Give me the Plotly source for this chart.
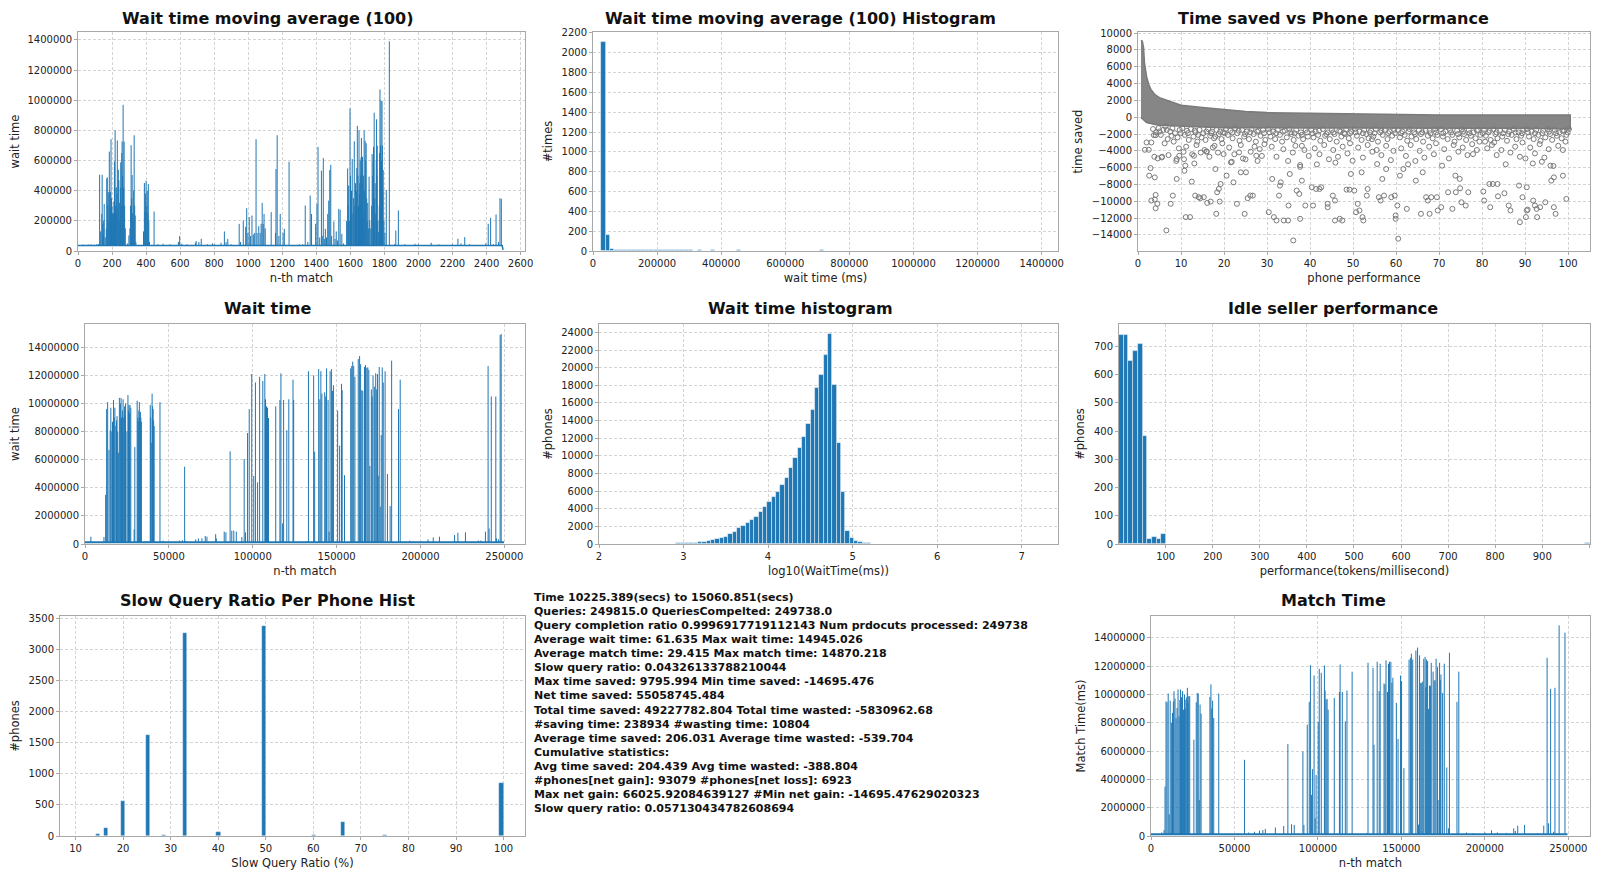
import plotly.graph_objects as go

BLUE = "#1f77b4"
FONT = "DejaVu Sans"
W, H = 1600, 878          # window size
OFF = 8                    # page body margin around the figure
FW, FH = W - OFF, H - OFF  # figure size so it fills the window exactly

# ---------------- data ----------------
# Wait time moving average (100): flat baseline plus spikes (index, value)
ma_base_x = [0, 2492, 2497]
ma_base_y = [36000, 36000, 8000]
ma_spikes = [
    (30, 44000), (60, 43000), (75, 44000), (95, 42000), (110, 45000), (120, 46000), (127, 506000),
    (133, 130000), (140, 246000), (142, 506000), (145, 180000), (148, 108000), (151, 200000),
    (154, 312000), (160, 90000), (166, 150000), (169, 480000), (172, 489000), (175, 300000),
    (178, 390000), (181, 200000), (184, 660000), (187, 390000), (190, 390000), (192, 280000),
    (194, 742000), (197, 350000), (200, 300000), (203, 250000), (206, 200000), (208, 250000),
    (211, 330000), (214, 594000), (216, 420000), (218, 801000), (221, 300000), (223, 250000),
    (225, 422000), (228, 380000), (231, 733000), (234, 280000), (237, 539000), (240, 470000),
    (243, 319000), (246, 200000), (249, 420000), (251, 588000), (254, 300000), (257, 650000),
    (259, 726000), (262, 500000), (265, 970000), (268, 420000), (271, 726000), (274, 300000),
    (278, 150000), (290, 50000), (299, 103000), (305, 150000), (309, 300000), (312, 702000),
    (315, 350000), (318, 504000), (321, 250000), (324, 200000), (327, 400000), (330, 768000),
    (333, 300000), (336, 235000), (340, 60000), (385, 130000), (390, 451000), (393, 260000),
    (397, 380000), (400, 466000), (404, 300000), (407, 400000), (410, 250000), (413, 444000),
    (416, 200000), (420, 60000), (447, 262000), (470, 45000), (500, 48000), (540, 45000),
    (590, 60000), (597, 99000), (610, 48000), (640, 45000), (690, 55000), (694, 66000),
    (710, 60000), (724, 81000), (760, 45000), (790, 50000), (800, 45000), (840, 55000),
    (860, 130000), (870, 60000), (880, 80000), (900, 45000), (947, 180000), (955, 60000),
    (971, 202000), (985, 160000), (991, 284000), (998, 120000), (1006, 225000), (1014, 100000),
    (1022, 235000), (1030, 110000), (1038, 120000), (1046, 742000), (1052, 120000),
    (1062, 165000), (1070, 120000), (1076, 180000), (1082, 319000), (1088, 180000),
    (1093, 246000), (1100, 150000), (1135, 258000), (1160, 120000), (1163, 544000),
    (1170, 768000), (1180, 100000), (1188, 246000), (1205, 120000), (1212, 147000),
    (1240, 592000), (1300, 45000), (1320, 45000), (1335, 302000), (1350, 60000), (1364, 368000),
    (1372, 246000), (1396, 180000), (1404, 312000), (1410, 691000), (1420, 90000), (1430, 533000),
    (1435, 100000), (1441, 616000), (1447, 80000), (1453, 147000), (1460, 90000), (1467, 246000),
    (1473, 334000), (1479, 537000), (1485, 572000), (1490, 100000), (1503, 196000), (1510, 80000),
    (1517, 130000), (1525, 70000), (1532, 280000), (1540, 273000), (1550, 114000), (1560, 50000),
    (1578, 200000), (1584, 548000), (1587, 300000), (1590, 434000), (1594, 200000), (1598, 946000),
    (1601, 500000), (1604, 250000), (1607, 400000), (1611, 610000), (1615, 250000), (1619, 350000),
    (1623, 728000), (1627, 300000), (1630, 450000), (1632, 250000), (1636, 400000), (1638, 550000),
    (1641, 830000), (1645, 500000), (1648, 300000), (1651, 801000), (1653, 380000), (1655, 450000),
    (1658, 600000), (1661, 500000), (1663, 620000), (1665, 750000), (1668, 350000), (1671, 625000),
    (1673, 450000), (1675, 250000), (1678, 500000), (1681, 801000), (1684, 400000), (1687, 731000),
    (1690, 600000), (1693, 715000), (1696, 350000), (1699, 200000), (1702, 319000), (1706, 150000),
    (1710, 493000), (1714, 200000), (1720, 150000), (1725, 300000), (1728, 643000), (1732, 500000),
    (1734, 600000), (1736, 691000), (1738, 450000), (1740, 918000), (1743, 350000), (1746, 246000),
    (1750, 450000), (1752, 600000), (1754, 874000), (1756, 500000), (1758, 698000), (1762, 200000),
    (1766, 125000), (1770, 300000), (1772, 650000), (1774, 1072000), (1777, 700000),
    (1780, 999000), (1783, 600000), (1786, 995000), (1788, 700000), (1790, 400000),
    (1793, 537000), (1797, 200000), (1803, 120000), (1811, 405000), (1829, 1391000),
    (1860, 45000), (1867, 136000), (1882, 269000), (1920, 45000), (1980, 48000), (2000, 45000),
    (2075, 55000), (2120, 45000), (2200, 45000), (2232, 81000), (2250, 50000), (2272, 92000),
    (2300, 45000), (2395, 50000), (2410, 180000), (2424, 220000), (2440, 45000), (2456, 242000),
    (2470, 60000), (2479, 350000), (2487, 346000),
]

# Histogram of the moving average (100 bins between min and max)
ma_hist_lo, ma_hist_hi = 26000, 1390400
ma_hist_counts = [
    2106, 164, 22, 14, 12, 11, 10, 14, 15, 13,
    12, 9, 8, 7, 6, 7, 6, 8, 9, 7,
    6, 5, 6, 4, 5, 6, 5, 4, 3, 4,
    5, 6, 4, 3, 3, 5, 4, 3, 4, 3,
    3, 4, 3, 2, 3, 2, 2, 3, 2, 4,
    6, 3, 2, 2, 1, 2, 1, 1, 0, 0,
    0, 0, 0, 0, 0, 0, 0, 0, 0, 0,
    1, 0, 0, 0, 0, 0, 0, 0, 0, 0,
    0, 0, 0, 0, 0, 0, 0, 0, 0, 0,
    0, 0, 0, 0, 0, 0, 0, 0, 0, 1,
]

# Time saved vs phone performance: dense band envelope + individual outliers
band_x = [0.7, 1.0, 1.3, 1.5, 2, 2.5, 3, 4, 5, 7, 10, 15, 20, 25, 30, 40, 50, 60, 62, 70, 80, 90, 100.5]
band_upper = [9160, 9040, 8250, 6470, 4820, 3900, 3320, 2650, 2330, 1930, 1420, 1145, 870, 670,
              550, 470, 430, 355, 280, 280, 280, 280, 280]
band_lower = [-120, -150, -250, -400, -630, -680, -700, -850, -950, -1000, -1050, -1150, -1250,
              -1250, -1250, -1270, -1270, -1270, -1270, -1270, -1300, -1300, -1400]
saved_outliers = [
    (1.6, -3870), (2.5, -3870), (2.0, -3000), (3.1, -3000), (3.7, -2130), (4.1, -2130), (2.9, -6040),
    (2.6, -6950), (3.9, -7150), (3.1, -9910), (4.1, -9240), (4.1, -10820), (4.5, -10300), (3.9, -9790),
    (5.5, -4780), (6.6, -13460), (7.6, -10300), (8.1, -9320), (9.0, -7340), (9.0, -4970), (9.6, -4580),
    (10.6, -4110), (10.8, -6360), (11.0, -5760), (11.1, -11880), (12.1, -11880), (12.5, -7660),
    (13.0, -4580), (13.3, -9320), (14.1, -9510), (14.5, -9630), (15.3, -9510), (15.9, -4070),
    (16.1, -10190), (16.9, -10030), (18.0, -6160), (18.2, -11490), (18.4, -8920), (18.8, -8530),
    (19.2, -7940), (19.0, -10030), (17.8, -3400), (19.9, -4380), (20.6, -6950), (21.6, -5370),
    (22.2, -7740), (23.0, -10300), (23.5, -4180), (24.8, -11490), (25.1, -6550), (25.5, -9630),
    (26.1, -9320), (26.7, -9320), (23.9, -6550), (27.5, -4580), (28.3, -3790), (30.4, -11290),
    (31.2, -7340), (31.6, -11880), (32.2, -12280), (32.8, -9320), (33.0, -8130), (33.2, -7740),
    (33.9, -12280), (34.9, -12280), (35.3, -6750), (35.0, -10500), (36.1, -14650), (36.9, -8720),
    (37.5, -9120), (37.7, -12080), (38.1, -3400), (38.1, -7540), (37.7, -5690), (38.9, -10500),
    (40.4, -8330), (40.7, -10500), (41.4, -8530), (42.2, -8530), (42.6, -8330), (44.1, -10300),
    (44.1, -10700), (45.3, -9320), (45.8, -9910), (45.8, -12280), (46.9, -12080), (47.5, -12280),
    (48.5, -8610), (49.2, -8610), (49.9, -5170), (49.5, -6750), (50.3, -8720), (50.7, -11290),
    (51.1, -10300), (51.5, -11090), (52.0, -6550), (52.2, -11880), (52.4, -12280), (53.2, -9320),
    (53.4, -8530), (54.4, -2610), (55.6, -5570), (56.0, -9510), (56.4, -9910), (56.8, -7340),
    (57.2, -9320), (57.7, -6160), (58.9, -9510), (59.7, -9320), (59.9, -11690), (59.9, -12080),
    (60.5, -14450), (60.3, -10500), (60.9, -6950), (61.7, -6160), (62.5, -10900), (64.6, -7540),
    (65.8, -11490), (66.2, -6550), (67.0, -9510), (67.4, -9910), (67.8, -11490), (68.2, -9510),
    (69.5, -9510), (69.7, -11090), (70.5, -10700), (70.7, -5760), (72.1, -8920), (73.1, -10900),
    (73.8, -6950), (73.9, -8920), (74.8, -7340), (74.9, -8450), (75.2, -10110), (76.2, -10500),
    (76.8, -8920), (77.9, -4380), (80.3, -8840), (80.5, -9910), (81.7, -7940), (81.9, -10700),
    (82.5, -7940), (83.6, -7940), (83.7, -9400), (85.2, -9040), (86.2, -10500), (86.6, -11090),
    (88.6, -8130), (88.8, -12480), (89.4, -9510), (90.2, -11880), (90.4, -11090), (90.6, -10980),
    (90.4, -8330), (91.9, -9910), (92.3, -10500), (92.7, -10900), (92.8, -11880), (93.5, -10700),
    (94.7, -10110), (96.1, -7540), (96.7, -7150), (96.7, -10700), (97.1, -11490), (98.8, -6950),
    (99.6, -9710), (95.9, -5760),
    (3.5, -1400), (4.2, -1800), (4.8, -1300), (5.3, -2100), (5.9, -1500), (6.4, -1100), (6.9, -2600),
    (7.5, -1700), (8.0, -1300), (8.6, -1900), (9.2, -2400), (9.7, -1500), (6.2, -3100), (8.3, -2900),
    (7.1, -4500), (5.6, -4700), (4.6, -4900), (9.5, -3700), (8.9, -5200), (3.8, -4700),
    (10.3, -1300), (10.9, -2100), (11.4, -1600), (11.8, -2700), (12.3, -1400), (12.9, -2300),
    (13.4, -1800), (13.8, -2900), (14.3, -1500), (14.8, -2400), (15.2, -1900), (15.7, -2700),
    (16.3, -1400), (16.8, -2200), (17.2, -1700), (17.7, -2500), (18.3, -1500), (18.8, -2000),
    (19.4, -2600), (19.8, -1800), (11.2, -3500), (12.6, -4400), (13.6, -3300), (14.6, -4200),
    (15.5, -3900), (16.6, -4700), (17.4, -3600), (18.6, -4200), (19.6, -3100), (10.7, -5000),
    (13.1, -5500), (16.0, -4100),
    (20.4, -1400), (20.9, -2100), (21.5, -1600), (22.0, -2500), (22.6, -1300), (23.1, -1900),
    (23.6, -2800), (24.2, -1500), (24.7, -2300), (25.3, -1700), (25.8, -2600), (26.4, -1400),
    (26.9, -2000), (27.4, -2900), (28.0, -1600), (28.5, -2200), (29.1, -1500), (29.6, -2700),
    (21.2, -3600), (22.4, -4400), (23.9, -3300), (25.0, -5000), (26.2, -4100), (27.1, -3500),
    (28.8, -4600), (29.4, -3200), (21.8, -5300), (24.4, -4900), (27.8, -5200),
    (30.3, -1400), (30.8, -2300), (31.4, -1700), (31.9, -2600), (32.5, -1500), (33.0, -2100),
    (33.5, -2900), (34.1, -1600), (34.6, -2400), (35.2, -1400), (35.7, -2000), (36.2, -2700),
    (36.8, -1500), (37.3, -2200), (37.9, -1800), (38.4, -2600), (39.0, -1500), (39.5, -2300),
    (31.1, -3500), (32.2, -4700), (33.8, -3800), (34.9, -5200), (36.0, -4200), (36.6, -3400),
    (37.7, -5900), (38.7, -3900), (39.7, -4600),
    (40.3, -1500), (40.8, -2400), (41.3, -1700), (41.9, -2100), (42.4, -2800), (43.0, -1400),
    (43.5, -2200), (44.1, -1800), (44.6, -2600), (45.1, -1500), (45.7, -2000), (46.2, -2900),
    (46.8, -1600), (47.3, -2300), (47.9, -1900), (48.4, -1400), (49.0, -2500), (49.6, -1700),
    (41.1, -3700), (42.2, -4400), (43.3, -3300), (44.4, -5000), (45.4, -3900), (46.5, -4700),
    (47.6, -3500), (48.7, -4300), (49.3, -3100), (41.6, -5600), (45.9, -5400),
    (50.4, -1400), (50.9, -2200), (51.5, -1700), (52.0, -2700), (52.6, -1500), (53.1, -2000),
    (53.6, -2500), (54.2, -1600), (54.7, -2300), (55.3, -1400), (55.8, -2900), (56.3, -1800),
    (56.9, -2100), (57.4, -1500), (58.0, -2600), (58.5, -1700), (59.1, -2200), (59.6, -1500),
    (51.2, -3600), (52.3, -4800), (53.4, -3300), (54.5, -4100), (55.5, -3900), (56.6, -4500),
    (57.7, -3400), (58.8, -5100), (59.4, -4000),
    (60.4, -1500), (60.9, -2400), (61.5, -1700), (62.0, -2100), (62.6, -2800), (63.1, -1400),
    (63.6, -2300), (64.2, -1800), (64.7, -2600), (65.3, -1500), (65.8, -2000), (66.3, -2900),
    (66.9, -1600), (67.4, -2200), (68.0, -1900), (68.5, -2500), (69.1, -1400), (69.6, -2100),
    (61.2, -3700), (62.3, -4600), (63.4, -3300), (64.5, -5200), (65.5, -4000), (66.6, -4800),
    (67.7, -3500), (68.8, -4400), (69.3, -3100), (62.8, -5600),
    (70.4, -1400), (70.9, -2300), (71.5, -1700), (72.0, -2600), (72.6, -1500), (73.1, -2100),
    (73.6, -2900), (74.2, -1600), (74.7, -2400), (75.3, -1400), (75.8, -2000), (76.3, -2700),
    (76.9, -1500), (77.4, -2200), (78.0, -1800), (78.5, -2500), (79.1, -1500), (79.6, -2100),
    (71.2, -3800), (72.3, -4900), (73.4, -3300), (74.5, -4100), (75.5, -3600), (76.6, -4500),
    (77.7, -3200), (78.8, -3900), (79.4, -2900),
    (80.4, -1500), (80.9, -2200), (81.5, -1800), (82.0, -2700), (82.6, -1400), (83.1, -2000),
    (83.6, -2500), (84.2, -1600), (84.7, -2300), (85.3, -1500), (85.8, -2800), (86.3, -1700),
    (86.9, -2100), (87.4, -1400), (88.0, -2600), (88.5, -1800), (89.1, -2200), (89.6, -1500),
    (81.2, -3700), (82.3, -3300), (83.4, -4500), (84.5, -3900), (85.5, -5600), (86.6, -4200),
    (87.7, -3500), (88.8, -4700), (89.4, -3000), (82.8, -3000), (80.7, -2900),
    (90.4, -1400), (90.9, -2300), (91.5, -1700), (92.0, -2600), (92.6, -1500), (93.1, -2100),
    (93.6, -2800), (94.2, -1600), (94.7, -2400), (95.3, -1400), (95.8, -2000), (96.3, -2700),
    (96.9, -1500), (97.4, -2200), (98.0, -1800), (98.5, -2500), (99.1, -1600), (99.6, -2100),
    (100.2, -1400), (91.2, -3600), (92.3, -4300), (93.4, -3200), (94.5, -4800), (95.5, -3800),
    (96.6, -5800), (97.7, -3400), (98.8, -3900), (99.4, -2900), (90.1, -4900), (91.8, -5500),
    (93.9, -5300),
    (5.0, -1700), (6.7, -1500), (7.8, -2200), (9.9, -1900), (11.6, -1900), (13.2, -1600),
    (14.0, -2100), (15.9, -1700), (17.0, -1900), (18.0, -2300), (19.1, -1700), (20.2, -1900),
    (21.9, -1800), (23.4, -1600), (24.9, -2000), (26.1, -1800), (27.7, -1700), (29.3, -1900),
    (30.6, -1800), (32.1, -1900), (33.7, -1700), (35.4, -1800), (36.4, -1900), (38.1, -2100),
    (39.3, -1800), (40.6, -1900), (42.1, -1600), (43.8, -2000), (45.4, -1800), (47.1, -1700),
    (48.1, -2000), (49.3, -1900), (50.6, -1800), (52.3, -1900), (53.9, -1800), (55.0, -1900),
    (56.6, -1600), (58.2, -1900), (59.8, -1900), (61.2, -1900), (62.9, -1700), (64.4, -2000),
    (66.1, -1800), (67.8, -1600), (69.3, -1800), (71.0, -1900), (72.8, -1800), (74.4, -2000),
    (75.6, -1700), (77.1, -1900), (78.8, -1600), (80.2, -1900), (81.8, -1600), (83.4, -1800),
    (84.9, -1900), (86.1, -2000), (87.8, -1800), (89.3, -1900), (90.7, -1800), (92.3, -1900),
    (94.0, -1900), (95.6, -1700), (97.2, -1900), (98.7, -1600), (99.9, -1800),
]

# Wait time per match (index, ms)
wait_base = 120000
wait_end = 249800
wait_spikes = [
    (3500, 520000), (11300, 500000), (12300, 3500000), (12900, 9600000), (13500, 10100000),
    (14300, 6700000), (15000, 8100000), (15400, 9700000), (16000, 8000000), (16400, 8700000),
    (17000, 10250000), (17400, 9000000), (17800, 9700000), (18400, 8400000), (18800, 8800000),
    (19100, 9100000), (19500, 8000000), (19900, 6500000), (20500, 10400000), (21100, 10000000),
    (21500, 10400000), (21800, 9000000), (22100, 8100000), (22400, 9500000), (22700, 10300000),
    (23100, 9000000), (23600, 9800000), (23900, 9200000), (24200, 10000000), (25000, 8000000),
    (25600, 10600000), (25900, 9500000), (26200, 9900000), (26500, 9300000), (26800, 9900000),
    (27300, 9700000), (29300, 1040000), (29700, 6900000), (31100, 10200000), (31500, 9000000),
    (31800, 8750000), (32100, 9500000), (32400, 10100000), (32700, 9000000), (33000, 9400000),
    (33300, 9000000), (33600, 8700000), (36000, 180000), (37500, 200000), (38900, 9900000),
    (39200, 9000000), (39500, 7200000), (40000, 10700000), (40300, 9800000), (40600, 9600000),
    (40900, 8800000), (41200, 8400000), (44700, 10100000), (46500, 240000), (56300, 240000),
    (58000, 280000), (59400, 5500000), (60000, 220000), (66000, 330000), (67600, 400000),
    (69700, 400000), (71700, 570000), (72700, 520000), (77900, 700000), (78300, 400000),
    (83000, 880000), (84000, 830000), (86500, 6600000), (87500, 950000), (88700, 950000),
    (90200, 880000), (93500, 500000), (94900, 6050000), (95700, 830000), (96900, 7900000),
    (97900, 9600000), (99400, 12100000), (100600, 4840000), (101600, 11500000), (102900, 4390000),
    (104100, 11900000), (106000, 11600000), (107200, 12100000), (107600, 10300000),
    (108200, 9800000), (108800, 9700000), (109400, 8970000), (113700, 9800000), (116200, 10250000),
    (116800, 12150000), (117800, 1470000), (118400, 10250000), (120300, 8100000),
    (121500, 10300000), (124000, 11700000), (124400, 10250000), (132500, 200000),
    (133200, 12300000), (136300, 12000000), (136900, 6570000), (139300, 12450000),
    (140000, 10300000), (140600, 12300000), (141200, 10700000), (142900, 10800000),
    (143500, 10500000), (144000, 12500000), (144900, 10250000), (145500, 880000),
    (146100, 12300000), (146900, 12450000), (147500, 10900000), (148100, 11300000),
    (150600, 9500000), (151800, 7000000), (152900, 11400000), (153300, 10950000),
    (154700, 4900000), (158400, 12500000), (159000, 12670000), (159600, 12980000),
    (160200, 12670000), (160900, 11900000), (162900, 13170000), (163700, 13380000),
    (164300, 12800000), (165000, 10950000), (165600, 10900000), (166600, 12600000),
    (167200, 12740000), (168000, 12550000), (168600, 12570000), (169200, 12400000),
    (169800, 5550000), (170700, 11000000), (171200, 10500000), (171700, 12000000),
    (172500, 11200000), (173300, 12150000), (173900, 11000000), (174400, 12100000),
    (174800, 4860000), (175400, 12600000), (176000, 2660000), (176600, 7760000),
    (177200, 12570000), (177800, 11500000), (178900, 12300000), (180300, 4980000),
    (181900, 2700000), (182800, 13050000), (186900, 9600000), (187900, 11700000),
    (193600, 240000), (195500, 180000), (204500, 330000), (207600, 470000), (211300, 520000),
    (220300, 640000), (222300, 800000), (226800, 830000), (234500, 250000), (236000, 250000),
    (238700, 880000), (240300, 12670000), (240900, 1100000), (242200, 10500000),
    (244900, 10500000), (245300, 400000), (246500, 330000), (247500, 14880000),
    (248100, 14950000),
]

# Wait time histogram, log10 scale, 100 bins
log_lo, log_hi = 2.0424, 7.1724
log_counts = [
    1, 0, 0, 1, 1, 1, 2, 2, 3, 4,
    6, 8, 12, 18, 25, 35, 45, 60, 80, 100,
    120, 150, 190, 260, 340, 420, 530, 640, 830, 1100,
    1320, 1780, 2080, 2420, 2720, 3100, 3590, 4160, 4730, 5290,
    5930, 6690, 7450, 8580, 9710, 10850, 12170, 13610, 15200, 17730,
    19160, 21430, 23780, 18030, 11420, 5930, 1440, 640, 300, 190,
    110, 70, 45, 35, 30, 28, 25, 25, 22, 22,
    20, 20, 20, 22, 25, 25, 28, 25, 22, 20,
    20, 18, 18, 15, 15, 12, 5, 4, 3, 3,
    4, 6, 15, 18, 20, 22, 20, 18, 15, 10,
]

# Idle seller performance, 100 bins of tokens/ms
perf_lo, perf_hi = 0.8, 1000.8
perf_counts = [741, 741, 649, 685, 709, 384, 17, 24, 19, 34] + [0] * 89 + [2]

# Slow query ratio per phone (%), 100 bins between 12.5 and 100
ratio_lo, ratio_hi, ratio_bins = 12.5, 100.0, 100
ratio_values = [14.29, 16.67, 20.0, 25.0, 28.57, 33.33, 40.0, 50.0, 60.0, 66.67, 75.0, 100.0]
ratio_counts = [32, 129, 570, 1623, 10, 3274, 70, 3382, 16, 226, 16, 850]

# Match time per match (index, ms)
match_base = 120000
match_end = 249500
match_spikes = [
    (6400, 250000), (7800, 420000), (8400, 3490000), (9000, 9500000), (9600, 9440000),
    (10300, 10060000), (10900, 1530000), (11500, 9560000), (12200, 8000000), (12900, 8690000),
    (13400, 9500000), (13800, 10220000), (14400, 9700000), (15000, 8330000), (15600, 9040000),
    (16200, 10340000), (16800, 8450000), (17300, 9600000), (17700, 10340000), (18300, 9800000),
    (18900, 10220000), (19500, 8920000), (20100, 9990000), (20500, 9000000), (20900, 9630000),
    (21400, 9800000), (21800, 10460000), (22200, 9400000), (22600, 9870000), (23200, 9870000),
    (25700, 6800000), (27100, 9440000), (27700, 10100000), (28300, 10060000), (28900, 2550000),
    (29400, 9280000), (30000, 8640000), (35300, 9820000), (35900, 10700000), (36400, 9000000),
    (36900, 9560000), (37600, 8330000), (40600, 10060000), (52000, 180000), (56000, 5380000),
    (58500, 250000), (62000, 300000), (65000, 380000), (67000, 420000), (68500, 500000),
    (74500, 600000), (79500, 700000), (82000, 6490000), (84200, 830000), (85800, 780000),
    (91000, 5970000), (91600, 780000), (93600, 7860000), (94800, 9470000), (95500, 12060000),
    (96100, 2900000), (96700, 4720000), (97700, 11330000), (98300, 1250000), (98900, 4320000),
    (100200, 8050000), (100800, 11800000), (102000, 11520000), (103900, 12040000),
    (104300, 10270000), (104900, 9630000), (105500, 9680000), (106100, 8920000),
    (109800, 9750000), (112900, 10170000), (113300, 12110000), (114600, 10170000),
    (116400, 8100000), (117400, 10270000), (120500, 11600000), (129500, 200000),
    (130000, 12230000), (133000, 11870000), (133600, 6440000), (135500, 12300000),
    (136700, 10220000), (137300, 12160000), (139600, 10770000), (140200, 10700000),
    (140800, 12400000), (141700, 10170000), (142300, 12160000), (142900, 12300000),
    (143700, 12300000), (144300, 10810000), (144900, 11170000), (147000, 9400000),
    (148000, 6850000), (149500, 11330000), (150100, 10930000), (151500, 4790000),
    (154600, 12440000), (155400, 12580000), (156000, 12870000), (156800, 12460000),
    (158700, 13100000), (159700, 13300000), (160300, 800000), (160900, 12750000),
    (161600, 10810000), (162200, 10810000), (162800, 10900000), (163400, 12510000),
    (164200, 12650000), (164600, 10500000), (165000, 12460000), (165700, 12350000),
    (166300, 8970000), (166900, 10620000), (167400, 10600000), (167900, 12230000),
    (169000, 11600000), (169600, 10980000), (170200, 11000000), (170800, 12510000),
    (171600, 11920000), (172000, 2550000), (172900, 12230000), (173300, 11000000),
    (173700, 11400000), (174700, 10100000), (175700, 12160000), (177200, 4840000),
    (178200, 540000), (178800, 12940000), (183300, 9470000), (184400, 11600000),
    (189000, 250000), (193000, 200000), (200000, 250000), (204000, 400000), (207500, 250000),
    (213000, 220000), (217300, 540000), (218300, 350000), (219700, 730000), (223800, 780000),
    (231500, 200000), (235300, 730000), (237300, 12580000), (238100, 900000),
    (239400, 10390000), (241200, 300000), (242000, 10460000), (243300, 200000),
    (244500, 14870000), (248000, 14350000),
]

summary_lines = [
    "Time 10225.389(secs) to 15060.851(secs)",
    "Queries: 249815.0 QueriesCompelted: 249738.0",
    "Query completion ratio 0.9996917719112143 Num prdocuts processed: 249738",
    "Average wait time: 61.635 Max wait time: 14945.026",
    "Average match time: 29.415 Max match time: 14870.218",
    "Slow query ratio: 0.04326133788210044",
    "Max time saved: 9795.994 Min time saved: -14695.476",
    "Net time saved: 55058745.484",
    "Total time saved: 49227782.804 Total time wasted: -5830962.68",
    "#saving time: 238934 #wasting time: 10804",
    "Average time saved: 206.031 Average time wasted: -539.704",
    "Cumulative statistics:",
    "Avg time saved: 204.439 Avg time wasted: -388.804",
    "#phones[net gain]: 93079 #phones[net loss]: 6923",
    "Max net gain: 66025.92084639127 #Min net gain: -14695.47629020323",
    "Slow query ratio: 0.057130434782608694",
]

titles = [
    ("Wait time moving average (100)", 267, 19),
    ("Wait time moving average (100) Histogram", 800, 19),
    ("Time saved vs Phone performance", 1333, 19),
    ("Wait time", 267, 308),
    ("Wait time histogram", 800, 308),
    ("Idle seller performance", 1333, 308),
    ("Slow Query Ratio Per Phone Hist", 267, 600),
    ("Match Time", 1333, 600),
]


# ---------------- helpers (window pixels -> paper fractions) ----------------
def fx(p):
    return (p - OFF) / FW


def fy(p):
    return 1 - (p - OFF) / FH


def px_x(a, b):
    return [fx(a), fx(b)]


def px_y(top, bottom):
    return [fy(bottom), fy(top)]


def spike_xy(pairs, base):
    xs, ys = [], []
    for x, y in pairs:
        xs += [x, x, None]
        ys += [base, y, None]
    return xs, ys


def hist_bars(lo, hi, counts):
    w = (hi - lo) / len(counts)
    centers = [lo + (i + 0.5) * w for i in range(len(counts))]
    return centers, w


def axes(i, xdom, ydom, xr, yr, xdt, ydt, xtitle="", ytitle="", xt0=0, yt0=0, grid=True):
    s = "" if i == 1 else str(i)
    common = dict(showline=True, mirror=True, linecolor="#a8a8a8", linewidth=1,
                  ticks="outside", ticklen=3, tickcolor="#a8a8a8", automargin=False,
                  showgrid=grid, gridcolor="#d4d4d4", griddash="3px,2px", gridwidth=1,
                  zeroline=False, tickfont=dict(size=10, color="#222222", family=FONT),
                  tickformat="d", tickmode="linear")
    return {
        f"xaxis{s}": dict(domain=xdom, range=xr, dtick=xdt, tick0=xt0, anchor=f"y{s}",
                          title=dict(text=xtitle, font=dict(size=11.5, color="#222222"), standoff=5),
                          **common),
        f"yaxis{s}": dict(domain=ydom, range=yr, dtick=ydt, tick0=yt0, anchor=f"x{s}",
                          title=dict(text=ytitle, font=dict(size=11.5, color="#222222"), standoff=6),
                          **common),
    }


fig = go.Figure()
bar_edge = dict(color="rgba(255,255,255,0.6)", width=0.8)

# 1 moving average
sx, sy = spike_xy(ma_spikes, ma_base_y[0])
fig.add_trace(go.Scatter(x=sx, y=sy, mode="lines", line=dict(color=BLUE, width=1),
                         xaxis="x", yaxis="y"))
fig.add_trace(go.Scatter(x=ma_base_x, y=ma_base_y, mode="lines", line=dict(color=BLUE, width=1.5),
                         xaxis="x", yaxis="y"))

# 2 moving average histogram
c, w = hist_bars(ma_hist_lo, ma_hist_hi, ma_hist_counts)
fig.add_trace(go.Bar(x=c, y=ma_hist_counts, width=w, marker=dict(color=BLUE, line=bar_edge),
                     xaxis="x2", yaxis="y2"))

# 3 time saved scatter
fig.add_trace(go.Scatter(x=band_x + band_x[::-1], y=band_upper + band_lower[::-1], mode="lines",
                         fill="toself", fillcolor="#868686", line=dict(color="#7a7a7a", width=1.5),
                         xaxis="x3", yaxis="y3"))
fig.add_trace(go.Scatter(x=[p[0] for p in saved_outliers], y=[p[1] for p in saved_outliers],
                         mode="markers", marker=dict(symbol="circle-open", size=5, color="#7a7a7a",
                                                     line=dict(width=1)),
                         xaxis="x3", yaxis="y3"))

# 4 wait time
sx, sy = spike_xy(wait_spikes, wait_base)
fig.add_trace(go.Scatter(x=sx, y=sy, mode="lines", line=dict(color=BLUE, width=1),
                         xaxis="x4", yaxis="y4"))
fig.add_trace(go.Scatter(x=[0, wait_end], y=[wait_base, wait_base], mode="lines",
                         line=dict(color=BLUE, width=2), xaxis="x4", yaxis="y4"))

# 5 log wait time histogram
c, w = hist_bars(log_lo, log_hi, log_counts)
fig.add_trace(go.Bar(x=c, y=log_counts, width=w, marker=dict(color=BLUE, line=bar_edge),
                     xaxis="x5", yaxis="y5"))

# 6 idle seller performance
c, w = hist_bars(perf_lo, perf_hi, perf_counts)
fig.add_trace(go.Bar(x=c, y=perf_counts, width=w, marker=dict(color=BLUE, line=bar_edge),
                     xaxis="x6", yaxis="y6"))

# 7 slow query ratio histogram
rw = (ratio_hi - ratio_lo) / ratio_bins
rc = [ratio_lo + (min(int((v - ratio_lo) / rw), ratio_bins - 1) + 0.5) * rw for v in ratio_values]
fig.add_trace(go.Bar(x=rc, y=ratio_counts, width=rw,
                     marker=dict(color=BLUE, line=dict(color="rgba(255,255,255,0.6)", width=0.6)),
                     xaxis="x7", yaxis="y7"))

# 9 match time
sx, sy = spike_xy(match_spikes, match_base)
fig.add_trace(go.Scatter(x=sx, y=sy, mode="lines", line=dict(color=BLUE, width=1),
                         xaxis="x9", yaxis="y9"))
fig.add_trace(go.Scatter(x=[0, match_end], y=[match_base, match_base], mode="lines",
                         line=dict(color=BLUE, width=2), xaxis="x9", yaxis="y9"))

layout = dict(width=FW, height=FH, autosize=False, showlegend=False,
              margin=dict(l=0, r=0, t=0, b=0, pad=0), paper_bgcolor="white", plot_bgcolor="white",
              font=dict(family=FONT, color="#222222"), bargap=0)
layout.update(axes(1, px_x(78, 525), px_y(32, 251), [0, 2626], [0, 1453000], 200, 200000,
                   "n-th match", "wait time"))
layout.update(axes(2, px_x(593, 1058), px_y(32, 251), [0, 1451000], [0, 2210], 200000, 200,
                   "wait time (ms)", "#times"))
layout.update(axes(3, px_x(1138, 1590), px_y(32, 251), [0, 105.1], [-15910, 10140], 10, 2000,
                   "phone performance", "time saved"))
layout.update(axes(4, px_x(85, 525), px_y(324, 544), [0, 262300], [0, 15660000], 50000, 2000000,
                   "n-th match", "wait time"))
layout.update(axes(5, px_x(599, 1058), px_y(324, 544), [2, 7.43], [0, 24950], 1, 2000,
                   "log10(WaitTime(ms))", "#phones"))
layout.update(axes(6, px_x(1119, 1590), px_y(324, 544), [0.8, 1001.5], [0, 780], 100, 100,
                   "performance(tokens/millisecond)", "#phones"))
layout.update(axes(7, px_x(60, 525), px_y(616, 836), [6.74, 104.5], [0, 3543], 10, 500,
                   "Slow Query Ratio (%)", "#phones"))
layout.update(axes(8, px_x(555, 1058), px_y(822, 856), [0, 1.053], [0, 1.05], 1, 1, grid=False))
layout.update(axes(9, px_x(1151, 1590), px_y(616, 836), [0, 263000], [0, 15530000], 50000, 2000000,
                   "n-th match", "Match Time(ms)"))
fig.update_layout(**layout)

annotations = []
for text, xpx, ypx in titles:
    annotations.append(dict(text=f"<b>{text}</b>", x=fx(xpx), y=fy(ypx), xref="paper", yref="paper",
                            xanchor="center", yanchor="middle", showarrow=False,
                            font=dict(size=16, color="#111111", family=FONT)))
for i, line in enumerate(summary_lines):
    annotations.append(dict(text=f"<b>{line}</b>", x=fx(532), y=fy(597 + 14.13 * i),
                            xref="paper", yref="paper", xanchor="left", yanchor="middle",
                            showarrow=False, font=dict(size=11, color="#111111", family=FONT)))
fig.update_layout(annotations=annotations)

fig.write_html("out.html")
